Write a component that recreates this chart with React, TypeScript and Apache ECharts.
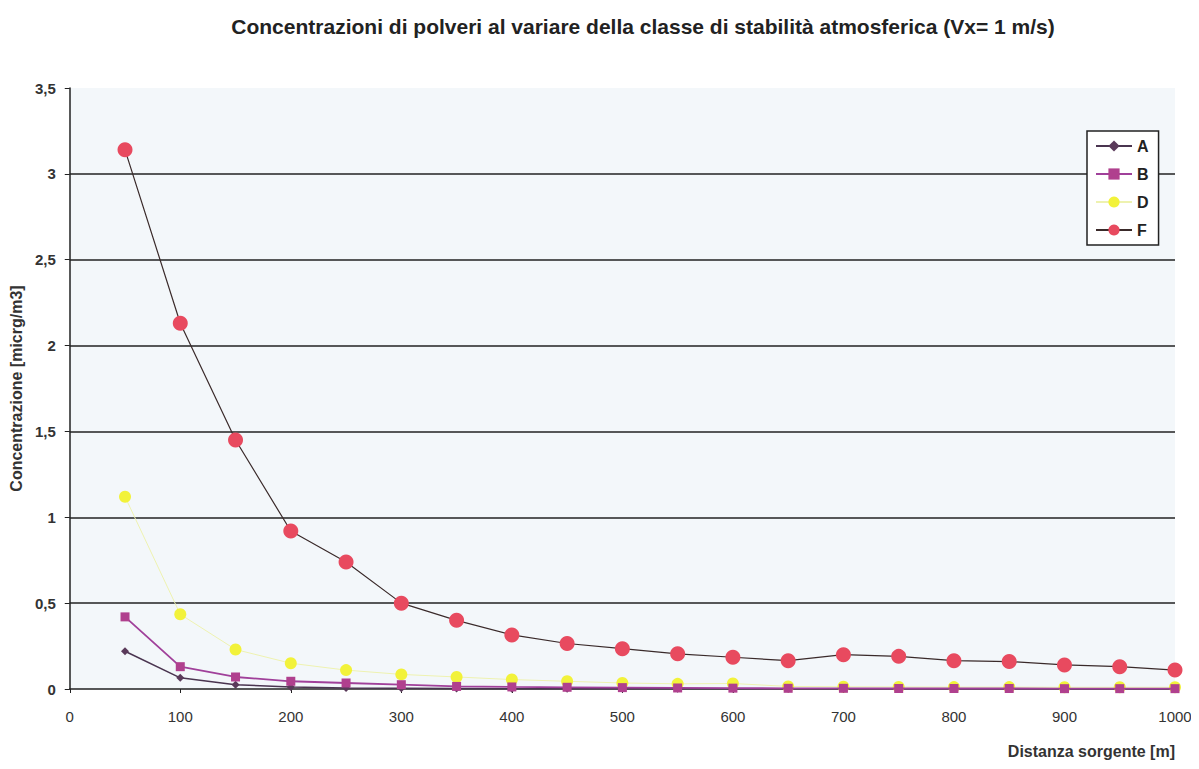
import React, { useEffect, useRef } from "react";
import * as echarts from "echarts";

const distances = [50, 100, 150, 200, 250, 300, 350, 400, 450, 500, 550, 600, 650, 700, 750, 800, 850, 900, 950, 1000];
const seriesA = [0.22, 0.065, 0.025, 0.012, 0.006, 0.004, 0.003, 0.002, 0.002, 0.002, 0.001, 0.001, 0.001, 0.001, 0.001, 0.001, 0.001, 0.001, 0.001, 0.001];
const seriesB = [0.42, 0.13, 0.07, 0.045, 0.035, 0.025, 0.015, 0.012, 0.01, 0.008, 0.006, 0.005, 0.004, 0.004, 0.003, 0.003, 0.003, 0.002, 0.002, 0.002];
const seriesD = [1.12, 0.435, 0.23, 0.15, 0.11, 0.085, 0.07, 0.055, 0.045, 0.035, 0.03, 0.032, 0.015, 0.013, 0.012, 0.011, 0.011, 0.01, 0.01, 0.01];
const seriesF = [3.14, 2.13, 1.45, 0.92, 0.74, 0.5, 0.4, 0.315, 0.265, 0.235, 0.205, 0.185, 0.165, 0.2, 0.19, 0.165, 0.16, 0.14, 0.13, 0.11];
const gridValues = [0.5, 1, 1.5, 2, 2.5, 3];

const titleText = "Concentrazioni di polveri al variare della classe di stabilità atmosferica (Vx= 1 m/s)";
const yName = "Concentrazione [micrg/m3]";
const xName = "Distanza sorgente [m]";

const pairs = (ys: number[]) => distances.map((d, i) => [d, ys[i]]);

export default function App() {
  const ref = useRef<HTMLDivElement>(null);
  useEffect(() => {
    if (!ref.current) return;
    const chart = echarts.init(ref.current, null, { renderer: "svg" });
    const font = "'Liberation Sans', Arial, sans-serif";
    chart.setOption({
      animation: false,
      backgroundColor: "#ffffff",
      textStyle: { fontFamily: font },
      title: {
        text: titleText,
        left: 638,
        textAlign: "center",
        top: 11,
        textStyle: { fontSize: 21, fontWeight: "bold", color: "#222", fontFamily: font },
      },
      grid: {
        left: 67,
        right: 24,
        top: 88,
        bottom: 80,
        show: true,
        backgroundColor: "#f3f7fa",
        borderWidth: 0,
      },
      legend: {
        orient: "vertical",
        left: 1087,
        top: 131,
        width: 70,
        padding: [7, 10, 7, 8],
        itemGap: 12,
        itemWidth: 36,
        itemHeight: 14,
        backgroundColor: "#ffffff",
        borderColor: "#222",
        borderWidth: 1.5,
        textStyle: { fontSize: 16, fontWeight: "bold", color: "#222", fontFamily: font },
        data: ["A", "B", "D", "F"],
      },
      xAxis: {
        type: "value",
        min: 0,
        max: 1000,
        interval: 100,
        name: xName,
        nameLocation: "end",
        nameGap: 0,
        nameTextStyle: {
          fontSize: 16,
          fontWeight: "bold",
          color: "#333",
          align: "right",
          verticalAlign: "top",
          padding: [54, 0, 0, 0],
        },
        axisLine: { show: true, onZero: false, lineStyle: { color: "#222", width: 1.5 } },
        axisTick: { show: true, length: 4, lineStyle: { color: "#222" } },
        axisLabel: { fontSize: 15, color: "#333", margin: 20, formatter: (v: number) => String(v) },
        splitLine: { show: false },
      },
      yAxis: {
        type: "value",
        min: 0,
        max: 3.5,
        interval: 0.5,
        name: yName,
        nameLocation: "middle",
        nameGap: 40,
        nameRotate: 90,
        nameTextStyle: { fontSize: 16, fontWeight: "bold", color: "#333" },
        axisLine: { show: true, lineStyle: { color: "#222", width: 1.5 } },
        axisTick: { show: true, length: 5, lineStyle: { color: "#222" } },
        axisLabel: {
          fontSize: 15,
          fontWeight: "bold",
          color: "#333",
          margin: 14,
          formatter: (v: number) => String(v).replace(".", ","),
        },
        splitLine: { show: false },
      },
      series: [
        {
          name: "A",
          type: "line",
          data: pairs(seriesA),
          symbol: "diamond",
          symbolSize: 8,
          itemStyle: { color: "#5a3a5a" },
          lineStyle: { color: "#4a3550", width: 1.5 },
          z: 4,
          markLine: {
            silent: true,
            symbol: "none",
            label: { show: false },
            lineStyle: { color: "#222", width: 1.5, type: "solid" },
            data: gridValues.map((v) => ({ yAxis: v })),
            z: 1,
          },
        },
        {
          name: "B",
          type: "line",
          data: pairs(seriesB),
          symbol: "rect",
          symbolSize: 9,
          itemStyle: { color: "#b0408e" },
          lineStyle: { color: "#a0409a", width: 1.8 },
          z: 5,
        },
        {
          name: "D",
          type: "line",
          data: pairs(seriesD),
          symbol: "circle",
          symbolSize: 12,
          itemStyle: { color: "#f2f23a" },
          lineStyle: { color: "#eef2b0", width: 1 },
          z: 3,
        },
        {
          name: "F",
          type: "line",
          data: pairs(seriesF),
          symbol: "circle",
          symbolSize: 15,
          itemStyle: { color: "#e84a5f" },
          lineStyle: { color: "#3a2a2a", width: 1.2 },
          z: 6,
        },
      ],
    });
    return () => chart.dispose();
  }, []);
  return <div ref={ref} style={{ width: 1199, height: 769, margin: -8 }} />;
}
